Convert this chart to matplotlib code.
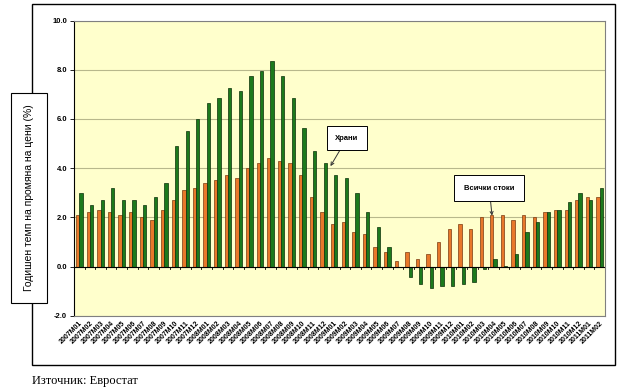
import matplotlib
matplotlib.use("Agg")
import matplotlib.pyplot as plt
from matplotlib.patches import Rectangle
import numpy as np

months = ([f"2007M{m:02d}" for m in range(1, 13)] +
          [f"2008M{m:02d}" for m in range(1, 13)] +
          [f"2009M{m:02d}" for m in range(1, 13)] +
          [f"2010M{m:02d}" for m in range(1, 13)] +
          ["2011M01", "2011M02"])

all_goods = [2.08, 2.22, 2.30, 2.22, 2.08, 2.22, 2.01, 1.89, 2.30, 2.71, 3.12, 3.20,
             3.40, 3.52, 3.73, 3.61, 4.01, 4.22, 4.42, 4.30, 4.22, 3.73, 2.83, 2.23,
             1.73, 1.81, 1.40, 1.32, 0.79, 0.59, 0.22, 0.59, 0.30, 0.50, 0.99, 1.53,
             1.72, 1.53, 2.00, 2.09, 2.08, 1.89, 2.08, 2.00, 2.20, 2.30, 2.30, 2.70,
             2.81, 2.81]
food = [2.99, 2.50, 2.71, 3.20, 2.71, 2.71, 2.50, 2.83, 3.40, 4.91, 5.52, 6.01,
        6.63, 6.83, 7.24, 7.12, 7.73, 7.93, 8.34, 7.73, 6.83, 5.61, 4.71, 4.22,
        3.73, 3.61, 2.99, 2.22, 1.61, 0.79, -0.03, -0.41, -0.72, -0.88, -0.81, -0.81,
        -0.72, -0.61, -0.11, 0.30, 0.02, 0.50, 1.39, 1.80, 2.20, 2.30, 2.61, 2.97,
        2.70, 3.18]

yticks = [-2.0, 0.0, 2.0, 4.0, 6.0, 8.0, 10.0]

W, H = 638, 392
fig = plt.figure(figsize=(W / 100, H / 100), dpi=100)
fig.patch.set_facecolor("white")

# outer frame
fig.add_artist(Rectangle((32 / W, 1 - 365 / H), (615 - 32) / W, (365 - 4) / H,
                         transform=fig.transFigure, fill=False, edgecolor="black",
                         linewidth=1.0, zorder=0))

ax = fig.add_axes([74 / W, 1 - 315.7 / H, (605 - 74) / W, (315.7 - 20.5) / H])
ax.set_facecolor("#FFFFCC")

x = np.arange(len(months))
bw = 0.31
ax.bar(x - bw / 2, all_goods, width=bw, color="#E8782A", edgecolor="#7A3A10",
       linewidth=0.5, zorder=3)
ax.bar(x + bw / 2, food, width=bw, color="#1C7A1C", edgecolor="#0A300A",
       linewidth=0.5, zorder=3)

ax.set_xlim(-0.5, len(months) - 0.5)
ax.set_ylim(-2.0, 10.0)
ax.set_yticks(yticks)
ax.set_yticklabels([f"{v:.1f}" for v in yticks], fontsize=5.5, fontweight="bold",
                   family="Liberation Sans")
ax.tick_params(axis="y", length=3, width=0.6, pad=2)
ax.yaxis.grid(True, color="#B8B88C", linewidth=0.8, zorder=1)
ax.set_axisbelow(True)

for s in ["top", "right", "bottom"]:
    ax.spines[s].set_color("#808080")
    ax.spines[s].set_linewidth(0.8)
ax.spines["left"].set_color("black")
ax.spines["left"].set_linewidth(0.8)

# zero line with category ticks
ax.axhline(0, color="black", linewidth=0.8, zorder=4)
for b in np.arange(0.5, len(months) - 0.5, 1.0):
    ax.plot([b, b], [0, -0.12], color="black", linewidth=0.6, zorder=4,
            clip_on=False)

ax.set_xticks(x)
ax.set_xticklabels(months, rotation=45, ha="right", va="top",
                   rotation_mode="anchor", fontsize=5, fontweight="bold",
                   family="Liberation Sans")
ax.tick_params(axis="x", length=0, pad=3)

# annotations
ax.annotate("Храни", xy=(23.65, 4.08), xytext=(25.2, 5.21),
            fontsize=5.5, fontweight="bold", family="Liberation Sans",
            ha="center", va="center",
            bbox=dict(boxstyle="square,pad=1.1", fc="white", ec="black", lw=0.7),
            arrowprops=dict(arrowstyle="->", color="#333333", lw=0.7,
                            shrinkA=0, shrinkB=0), zorder=6)
ax.annotate("Всички стоки", xy=(38.86, 2.07), xytext=(38.6, 3.19),
            fontsize=5.5, fontweight="bold", family="Liberation Sans",
            ha="center", va="center",
            bbox=dict(boxstyle="square,pad=1.3", fc="white", ec="black", lw=0.7),
            arrowprops=dict(arrowstyle="->", color="#333333", lw=0.7,
                            shrinkA=0, shrinkB=0), zorder=6)

# y-label box
fig.add_artist(Rectangle((10.7 / W, 1 - 303 / H), 36.3 / W, 210 / H,
                         transform=fig.transFigure, facecolor="white",
                         edgecolor="black", linewidth=0.8, zorder=2))
fig.text(29 / W, 1 - 198 / H, "Годишен темп на промяна на цени (%)",
         rotation=90, ha="center", va="center", fontsize=7.5,
         family="Liberation Sans", zorder=3)

fig.text(32 / W, 1 - 381 / H, "Източник: Евростат", ha="left", va="center",
         fontsize=9, family="Liberation Serif")

fig.savefig("out.png", dpi=100)
